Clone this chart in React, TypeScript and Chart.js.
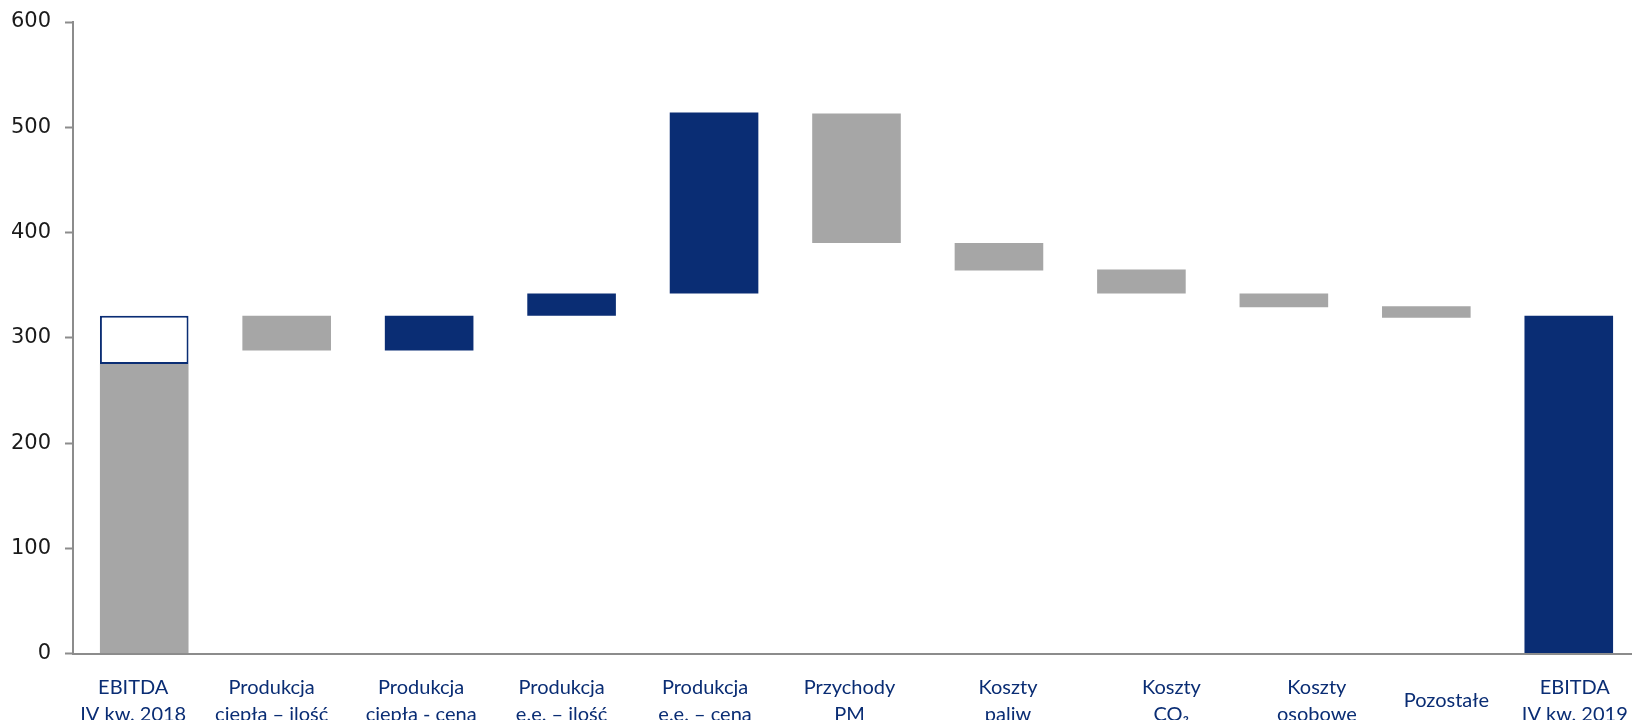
import React, { useEffect, useRef } from "react";
import { Chart, registerables } from "chart.js";

Chart.register(...registerables);

// Category labels (multi-line where the label wraps)
const categories: (string | string[])[] = [
  ["EBITDA", "IV kw. 2018"],
  ["Produkcja", "ciepła – ilość"],
  ["Produkcja", "ciepła - cena"],
  ["Produkcja", "e.e. – ilość"],
  ["Produkcja", "e.e. – cena"],
  ["Przychody", "PM"],
  ["Koszty", "paliw"],
  ["Koszty", "CO₂"],
  ["Koszty", "osobowe"],
  "Pozostałe",
  ["EBITDA", "IV kw. 2019"],
];

// Floating bar ranges (mln zł): bottom and top of each bar
const barFrom = [0, 288, 288, 321, 342, 390, 364, 342, 329, 319, 0];
const barTo = [275, 321, 321, 342, 514, 513, 390, 365, 342, 330, 321];

// true = increase / total (navy), false = decrease / base (grey)
const barIsNavy = [false, false, true, true, true, false, false, false, false, false, true];

// Outlined segment on top of the opening bar
const outlineFrom = [275, null, null, null, null, null, null, null, null, null, null];
const outlineTo = [321, null, null, null, null, null, null, null, null, null, null];

const yTicks = [0, 100, 200, 300, 400, 500, 600];

// Horizontal nudge (px) of each category caption relative to its bar centre
const captionShift = [-11, -15, -8, -10, -9, -7, 9, 30, 33, 20, 6];

const NAVY = "#0a2d74";
const GREY = "#a6a6a6";
const AXIS = "#8c8c8c";
const CAPTION_FONT = "20px Lato, 'Liberation Sans', sans-serif";
const CAPTION_LINE = 27;

// Draws the category captions under the x axis
const captionPlugin = {
  id: "captions",
  afterDraw(chart: any) {
    const { ctx, scales } = chart;
    const x = scales.x;
    const axisY = chart.chartArea.bottom;
    ctx.save();
    ctx.font = CAPTION_FONT;
    ctx.fillStyle = NAVY;
    ctx.textAlign = "center";
    ctx.textBaseline = "middle";
    categories.forEach((label, i) => {
      const lines = Array.isArray(label) ? label : [label];
      const cx = x.getPixelForValue(i) + captionShift[i];
      const firstY = axisY + 33.5 + ((2 - lines.length) * CAPTION_LINE) / 2;
      lines.forEach((line, j) => {
        ctx.fillText(line, cx, firstY + j * CAPTION_LINE);
      });
    });
    ctx.restore();
  },
};

export default function App() {
  const canvasRef = useRef<HTMLCanvasElement | null>(null);

  useEffect(() => {
    const canvas = canvasRef.current;
    if (!canvas) return;

    const chart = new Chart(canvas, {
      type: "bar",
      data: {
        labels: categories,
        datasets: [
          {
            data: barFrom.map((v, i) => [v, barTo[i]]),
            backgroundColor: barIsNavy.map((n) => (n ? NAVY : GREY)),
            borderWidth: 0,
            grouped: false,
            categoryPercentage: 1,
            barPercentage: 0.622,
          } as any,
          {
            data: outlineFrom.map((v, i) => (v === null ? null : [v, outlineTo[i] as number])),
            backgroundColor: "#ffffff",
            borderColor: NAVY,
            borderWidth: 2,
            borderSkipped: false,
            grouped: false,
            categoryPercentage: 1,
            barPercentage: 0.622,
          } as any,
        ],
      },
      options: {
        responsive: false,
        animation: false,
        layout: { padding: { top: 22, right: 0, left: 0, bottom: 0 } },
        plugins: {
          legend: { display: false },
          tooltip: { enabled: false },
        },
        scales: {
          x: {
            offset: true,
            grid: { display: true, drawOnChartArea: false, drawTicks: false },
            border: { display: true, color: AXIS, width: 2 },
            ticks: { display: false },
            afterFit: (scale: any) => {
              scale.height = 66.4;
              scale.paddingLeft = 0;
              scale.paddingRight = 0;
            },
          },
          y: {
            min: yTicks[0],
            max: yTicks[yTicks.length - 1],
            afterBuildTicks: (scale: any) => {
              scale.ticks = yTicks.map((v) => ({ value: v }));
            },
            grid: {
              display: true,
              drawOnChartArea: false,
              drawTicks: true,
              tickLength: 8,
              tickColor: AXIS,
              tickWidth: 2,
            },
            border: { display: true, color: AXIS, width: 2 },
            ticks: {
              color: "#1a1a1a",
              padding: 14,
              font: { family: "'DejaVu Sans', Verdana, sans-serif", size: 21 },
            },
            afterFit: (scale: any) => {
              scale.width = 73;
              scale.paddingTop = 0;
              scale.paddingBottom = 0;
            },
          },
        },
      } as any,
      plugins: [captionPlugin],
    });

    return () => chart.destroy();
  }, []);

  return (
    <div
      style={{
        position: "fixed",
        left: 0,
        top: 0,
        width: 1632,
        height: 720,
        overflow: "hidden",
        background: "#ffffff",
      }}
    >
      <canvas ref={canvasRef} width={1640} height={720} style={{ width: 1640, height: 720, display: "block" }} />
    </div>
  );
}
